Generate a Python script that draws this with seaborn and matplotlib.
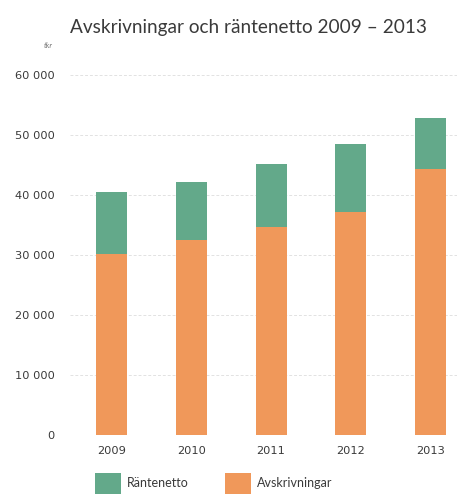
import pandas as pd
import matplotlib.pyplot as plt
import matplotlib.patches as mpatches
import seaborn as sns

# värden (tkr)
ar = ["2009", "2010", "2011", "2012", "2013"]
avskrivningar = [30200, 32500, 34700, 37200, 44300]
rantenetto = [10350, 9600, 10500, 11250, 8500]
yticks = [0, 10000, 20000, 30000, 40000, 50000, 60000]

gron = "#63a98a"
orange = "#f0985a"
text_farg = "#3a3a3a"

df = pd.DataFrame({"Ar": ar, "Avskrivningar": avskrivningar, "Rantenetto": rantenetto})
df["Totalt"] = df["Avskrivningar"] + df["Rantenetto"]

sns.set_style("white")
plt.rcParams["font.family"] = ["Lato", "DejaVu Sans"]

fig = plt.figure(figsize=(4.59, 4.96), dpi=100)
ax = fig.add_axes([70 / 459, 1 - 435 / 496, 387 / 459, 360 / 496])

# staplad: totalen i grönt, avskrivningar i orange ovanpå
sns.barplot(data=df, x="Ar", y="Totalt", color=gron, width=0.39, saturation=1,
            linewidth=0, ax=ax, zorder=3)
sns.barplot(data=df, x="Ar", y="Avskrivningar", color=orange, width=0.39, saturation=1,
            linewidth=0, ax=ax, zorder=3)

ax.set_ylim(0, 60000)
ax.set_xlim(-0.52, 4.33)
ax.set_yticks(yticks)
ax.set_yticklabels([f"{v:,}".replace(",", " ") for v in yticks])
ax.tick_params(axis="y", length=0, pad=11, labelsize=8.2, labelcolor=text_farg)
ax.tick_params(axis="x", length=0, pad=8, labelsize=8.2, labelcolor=text_farg)
for lab in ax.get_xticklabels() + ax.get_yticklabels():
    lab.set_family("DejaVu Sans")
ax.set_xlabel("")
ax.set_ylabel("")
ax.yaxis.grid(True, color="#e2e2e2", linestyle=(0, (3, 2)), linewidth=0.7, zorder=0)
ax.set_axisbelow(True)
for s in ax.spines.values():
    s.set_visible(False)

fig.text(70 / 459, 1 - 33 / 496, "Avskrivningar och räntenetto 2009 – 2013",
         fontsize=13.7, color=text_farg, va="baseline", ha="left")
fig.text(53 / 459, 1 - 46 / 496, "tkr", fontsize=5.5, color="#777777", ha="right", va="center", style="italic")

handles = [mpatches.Patch(color=gron, label="Räntenetto", linewidth=0),
           mpatches.Patch(color=orange, label="Avskrivningar", linewidth=0)]
fig.legend(handles=handles, loc="upper left", bbox_to_anchor=(95 / 459, 1 - 473 / 496),
           ncol=2, frameon=False, fontsize=9, borderpad=0, borderaxespad=0,
           handlelength=2.1, handleheight=2.2, handletextpad=0.45, columnspacing=2.9,
           labelcolor=text_farg)

fig.savefig("out.png", dpi=100)
